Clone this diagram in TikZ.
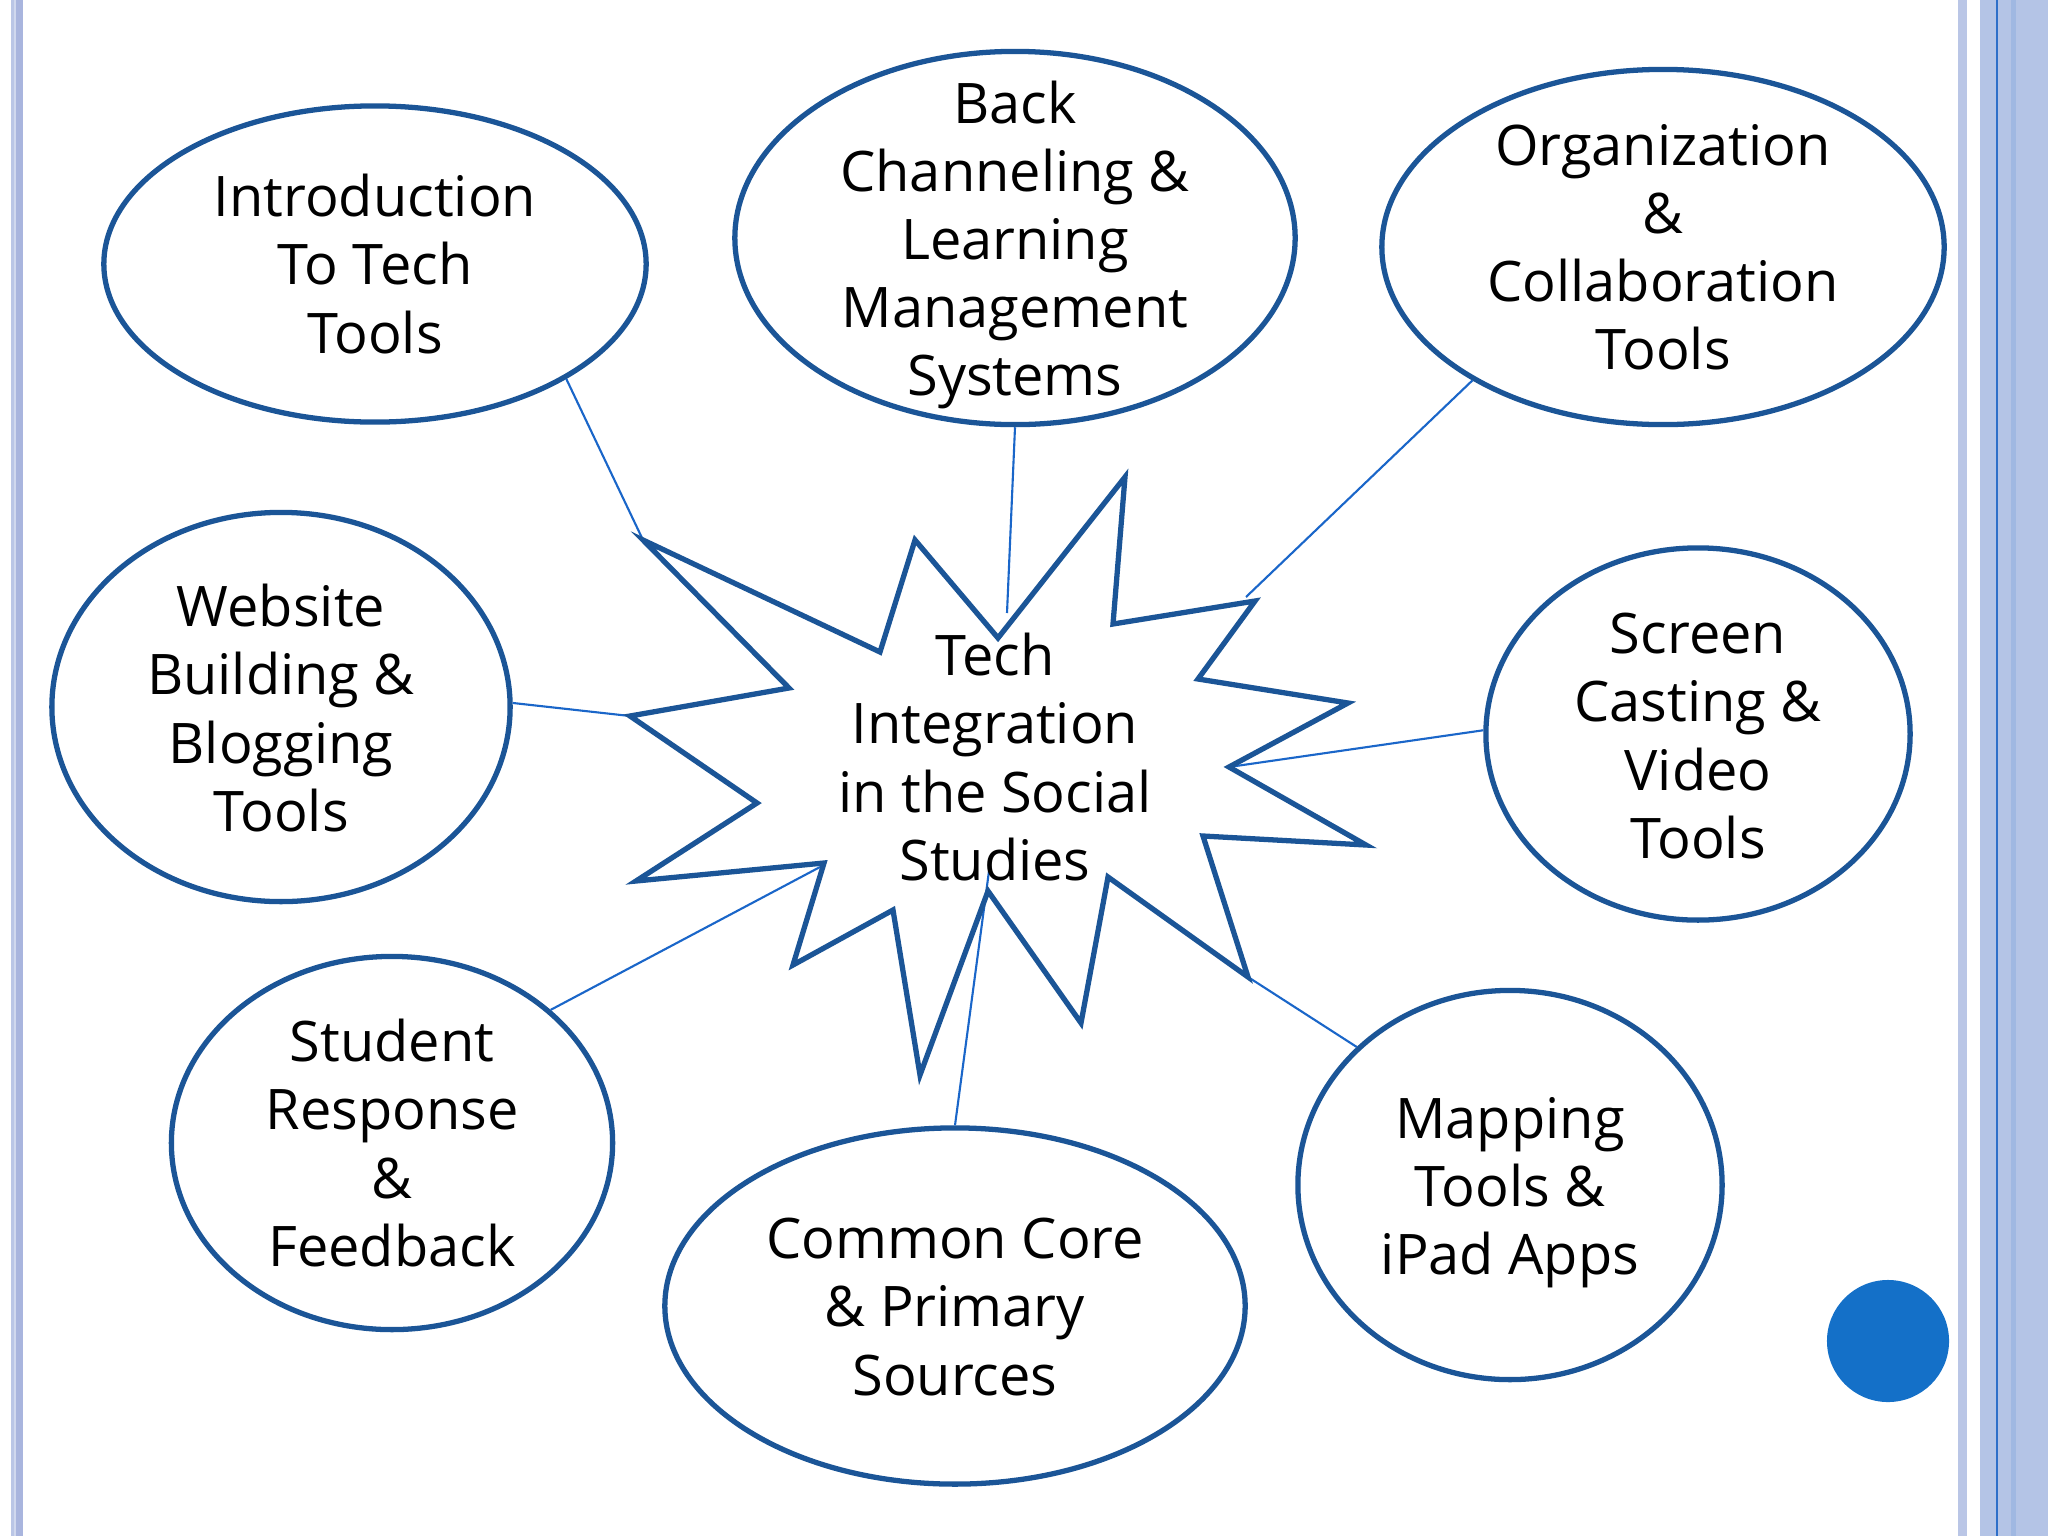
\documentclass[tikz,border=0pt]{standalone}
\usepackage{fontspec}
\setmainfont{Open Sans}
\usetikzlibrary{shapes.geometric}
\definecolor{edgeblue}{HTML}{1B5597}
\definecolor{linkblue}{HTML}{1A66C9}
\definecolor{dotblue}{HTML}{1470C8}
\definecolor{stripeA}{HTML}{BAC6E6}
\definecolor{stripeB}{HTML}{A9B5DE}
\definecolor{stripeC}{HTML}{D0D8EE}
\definecolor{stripeR}{HTML}{B4C4E6}
\definecolor{stripeRline}{HTML}{2E6FC9}
\definecolor{stripeRmid}{HTML}{A0B8E2}
\begin{document}
\begin{tikzpicture}[x=0.01cm,y=-0.01cm,
  bubble/.style={ellipse, draw=edgeblue, line width=1.5pt, inner sep=0pt},
  txt/.style={align=center, font=\fontsize{15.9}{19.35}\selectfont, inner sep=0pt, text=black},
  link/.style={draw=linkblue, line width=0.6pt},
  burst/.style={draw=edgeblue, line width=1.5pt, line join=miter}]
\useasboundingbox (0,0) rectangle (2048,1536);
\fill[white] (0,0) rectangle (2048,1536);
% page border stripes
\fill[stripeA] (10.5,0) rectangle (14,1536);
\fill[stripeC] (14,0) rectangle (16,1536);
\fill[stripeB] (16,0) rectangle (23,1536);
\fill[stripeA] (1958,0) rectangle (1967,1536);
\fill[stripeR] (1980,0) rectangle (2048,1536);
\fill[stripeRline] (1995.5,0) rectangle (1998,1536);
\fill[stripeRmid] (2011,0) rectangle (2016,1536);

% bubbles
\node[bubble, minimum width=5.42cm, minimum height=3.16cm] (e1) at (375,264) {};
\node[bubble, minimum width=5.60cm, minimum height=3.73cm] (e2) at (1015,238) {};
\node[bubble, minimum width=5.62cm, minimum height=3.55cm] (e3) at (1663,247) {};
\node[bubble, minimum width=4.58cm, minimum height=3.89cm] (e4) at (281,707) {};
\node[bubble, minimum width=4.24cm, minimum height=3.72cm] (e5) at (1698,734) {};
\node[bubble, minimum width=4.41cm, minimum height=3.73cm] (e6) at (392,1143) {};
\node[bubble, minimum width=5.80cm, minimum height=3.56cm] (e7) at (955,1306) {};
\node[bubble, minimum width=4.24cm, minimum height=3.89cm] (e8) at (1510,1185) {};

\node[txt] (t1) at (375,264) {Introduction\\To Tech\\Tools};
\node[txt] (t2) at (1015,245) {Back\\Channeling \&\\Learning\\Management\\Systems};
\node[txt] (t3) at (1663,247) {Organization\\\&\\Collaboration\\Tools};
\node[txt] (t4) at (281,708) {Website\\Building \&\\Blogging\\Tools};
\node[txt] (t5) at (1698,736) {Screen\\Casting \&\\Video\\Tools};
\node[txt] (t6) at (392,1143) {Student\\Response\\\&\\Feedback};
\node[txt] (t7) at (955,1307) {Common Core\\\& Primary\\Sources};
\node[txt] (t8) at (1510,1193) {Mapping\\Tools \&\\iPad Apps};

% starburst vertices
\coordinate (T1) at (643,540);
\coordinate (I1) at (880,652);
\coordinate (T2) at (915,540);
\coordinate (I2) at (998,638);
\coordinate (T3) at (1125,477);
\coordinate (I3) at (1113,624);
\coordinate (T4) at (1255,601);
\coordinate (I4) at (1198,679);
\coordinate (T5) at (1348,703);
\coordinate (I5) at (1229,767);
\coordinate (T6) at (1366,845);
\coordinate (I6) at (1203,836);
\coordinate (T7) at (1248,977);
\coordinate (I7) at (1108,877);
\coordinate (T8) at (1081,1023);
\coordinate (I8) at (988,891);
\coordinate (T9) at (920,1075);
\coordinate (I9) at (893,910);
\coordinate (T10) at (793,965);
\coordinate (I10) at (824,863);
\coordinate (T11) at (636,881);
\coordinate (I11) at (757,803);
\coordinate (T12) at (630,716);
\coordinate (I12) at (789,688);

% connector free ends
\coordinate (c2) at (1007,613);
\coordinate (c3) at (1246,597);
\coordinate (c6) at (820,867);
\coordinate (c7) at (989,871);

\draw[link] (e1.-31) -- (T1);
\draw[link] (e2.-90) -- (c2);
\draw[link] (e3.-145) -- (c3);
\draw[link] (e4.1) -- (T12);
\draw[link] (e5.179) -- (I5);
\draw[link] (e6.40) -- (c6);
\draw[link] (e7.90) -- (c7);
\draw[link] (e8.138) -- (T7);

\draw[burst] (T1) -- (I1) -- (T2) -- (I2) -- (T3) -- (I3) -- (T4) -- (I4) -- (T5) -- (I5) -- (T6) -- (I6) -- (T7) -- (I7) -- (T8) -- (I8) -- (T9) -- (I9) -- (T10) -- (I10) -- (T11) -- (I11) -- (T12) -- (I12) -- cycle;
\node[txt] (st) at (995,757) {Tech\\Integration\\in the Social\\Studies};

\node[circle, fill=dotblue, inner sep=0pt, minimum size=1.22cm] (dot) at (1888,1341) {};
\end{tikzpicture}
\end{document}
